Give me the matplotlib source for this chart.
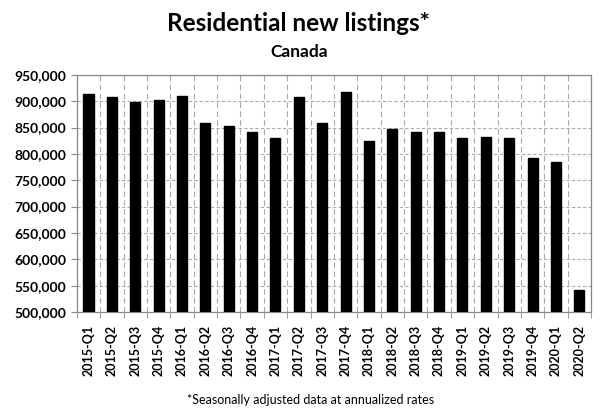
import matplotlib
matplotlib.use("Agg")
import matplotlib.pyplot as plt
import numpy as np
from matplotlib.ticker import FuncFormatter, MultipleLocator

quarters = ["2015-Q1", "2015-Q2", "2015-Q3", "2015-Q4",
            "2016-Q1", "2016-Q2", "2016-Q3", "2016-Q4",
            "2017-Q1", "2017-Q2", "2017-Q3", "2017-Q4",
            "2018-Q1", "2018-Q2", "2018-Q3", "2018-Q4",
            "2019-Q1", "2019-Q2", "2019-Q3", "2019-Q4",
            "2020-Q1", "2020-Q2"]
listings = [914000, 907000, 897500, 902000,
            910000, 858000, 853000, 841500,
            830000, 907500, 859000, 917000,
            825000, 847000, 841500, 841500,
            830500, 831500, 829500, 793000,
            784500, 541000]

plt.rcParams['font.family'] = ['Lato', 'DejaVu Sans']

fig = plt.figure(figsize=(6.0, 4.11), dpi=100)
ax = fig.add_axes([0.128, 0.241, 0.857, 0.577])

x = np.arange(len(quarters))
ax.bar(x, listings, width=0.43, color='black', edgecolor='black', zorder=3)

ax.set_xlim(-0.5, len(quarters) - 0.5)
ax.set_ylim(500000, 950000)
ax.yaxis.set_major_locator(MultipleLocator(50000))
ax.yaxis.set_major_formatter(FuncFormatter(lambda v, p: f"{int(v):,}"))

ax.set_xticks(x)
ax.set_xticklabels(quarters, rotation=90, fontweight='bold', fontsize=9)
ax.set_xticks(np.arange(-0.5, len(quarters), 1), minor=True)
ax.tick_params(axis='x', which='major', length=0, pad=9)
ax.tick_params(axis='x', which='minor', length=4, color='#888888')
ax.tick_params(axis='y', length=4, color='#888888', labelsize=10)
for lbl in ax.get_yticklabels():
    lbl.set_fontweight('bold')

ax.grid(axis='y', which='major', linestyle=(0, (3, 2)), color='#aaaaaa', linewidth=0.8, zorder=0)
ax.grid(axis='x', which='minor', linestyle=(0, (5, 3)), color='#aaaaaa', linewidth=0.8, zorder=0)
ax.grid(axis='x', which='major', visible=False)

for s in ax.spines.values():
    s.set_color('#888888')
    s.set_linewidth(0.9)

fig.text(0.498, 0.942, "Residential new listings*", ha='center', va='center',
         fontsize=17.5, fontweight='bold')
fig.text(0.498, 0.873, "Canada", ha='center', va='center',
         fontsize=12.5, fontweight='bold')
fig.text(0.517, 0.027, "*Seasonally adjusted data at annualized rates", ha='center',
         va='center', fontsize=9)

fig.savefig("out.png", dpi=100)
